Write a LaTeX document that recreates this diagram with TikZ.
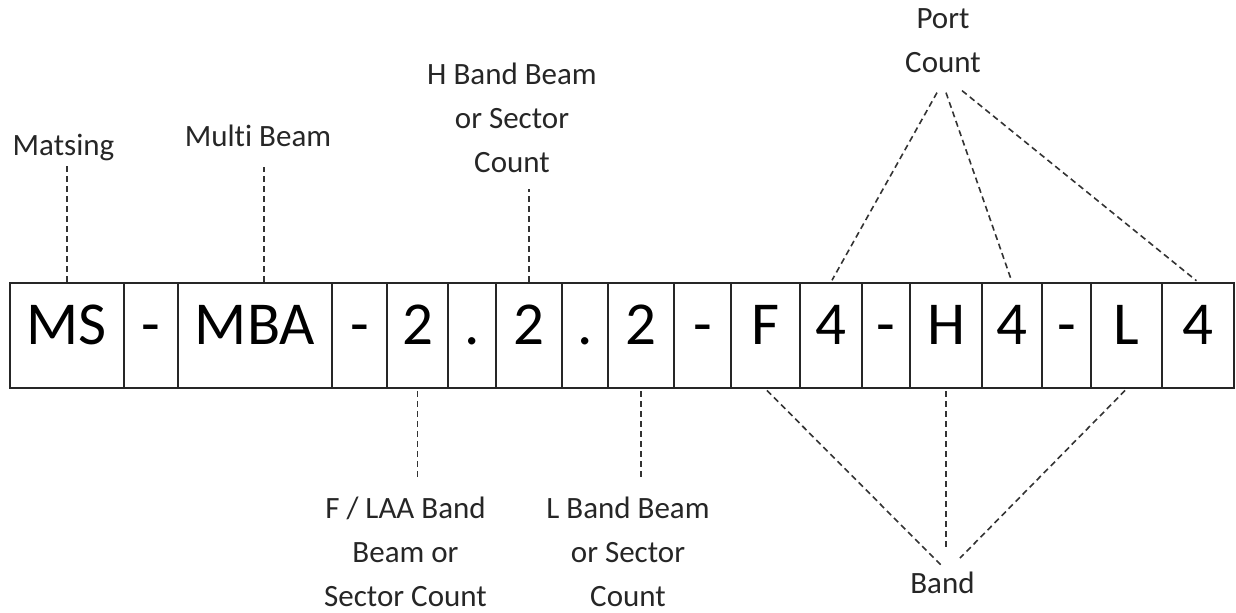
\documentclass[tikz,border=0pt]{standalone}
\usepackage{fontspec}
\setmainfont{Carlito}[Ligatures={NoCommon}]
\usepackage{tikz}
\usetikzlibrary{calc}

\begin{document}
\begin{tikzpicture}[x=.5pt,y=-.5pt,
        cell/.style={draw=black!85,line width=1pt,anchor=base,inner sep=0pt,
            text height=30.5pt,text depth=22pt,font=\fontsize{30.5}{31}\selectfont},
        lbl/.style={align=center,anchor=base,inner sep=0pt,text=black!85,
            font=\fontsize{15.5}{22}\selectfont},
        leader/.style={draw=black!80,line width=.8pt,dash pattern=on 3pt off 2pt}]
        \useasboundingbox (0,0) rectangle (1236,612);
        \foreach \l/\r/\txt [count=\i] in {9.5/124/MS,124/178/-,178/332/MBA,332/387/-,
            387/448/2,448/496/.,496/562/2,562/608/.,608/674/2,674/731/-,731/800/F,
            800/862/4,862/910/-,910/982/H,982/1042/4,1042/1091/-,1091/1162/L,1162/1234/4}
        {
            \node[cell,minimum width={(\r-\l)*.5pt}] (c\i) at ({(\l+\r)/2},344) {\txt};
        }
        \node[lbl] (matsing) at (63.5,155) {Matsing};
        \node[lbl] (multi) at (258,146) {Multi Beam};
        \node[lbl] (hband) at (512,172) {H Band Beam\\or Sector\\Count};
        \node[lbl] (port) at (943,72) {Port\\Count};
        \node[lbl] (flaa) at (405.5,606) {F / LAA Band\\Beam or\\Sector Count};
        \node[lbl] (lband) at (628,606) {L Band Beam\\or Sector\\Count};
        \node[lbl] (band) at (942.5,593) {Band};

        \coordinate (mb) at ($(c3.north)+(9,0)$);
        \draw[leader,shorten >=1pt] (c1.north) -- (c1.north |- matsing.south);
        \draw[leader,shorten >=10pt] (mb) -- (mb |- multi.south);
        \draw[leader,shorten >=8pt] (c7.north) -- (c7.north |- hband.south);
        \draw[leader,shorten <=1pt,shorten >=8pt] (c5.south) -- (c5.south |- flaa.north);
        \draw[leader,shorten <=1pt,shorten >=8pt] (c9.south) -- (c9.south |- lband.north);

        \draw[leader,shorten >=1pt] ($(port.south)+(-6,20)$) -- (c12.north);
        \draw[leader,shorten >=1pt] ($(port.south)+(3,20)$) -- (c15.north);
        \draw[leader,shorten >=1pt] ($(port.south)+(19,18)$) -- (c18.north);

        \draw[leader,shorten <=1pt] (c11.south) -- ($(band.north)+(-1.5,-6)$);
        \draw[leader,shorten <=1pt] (c14.south) -- ($(band.north)+(3.5,-23)$);
        \draw[leader,shorten <=1pt] (c17.south) -- ($(band.north)+(17.5,-13)$);
\end{tikzpicture}
\end{document}
